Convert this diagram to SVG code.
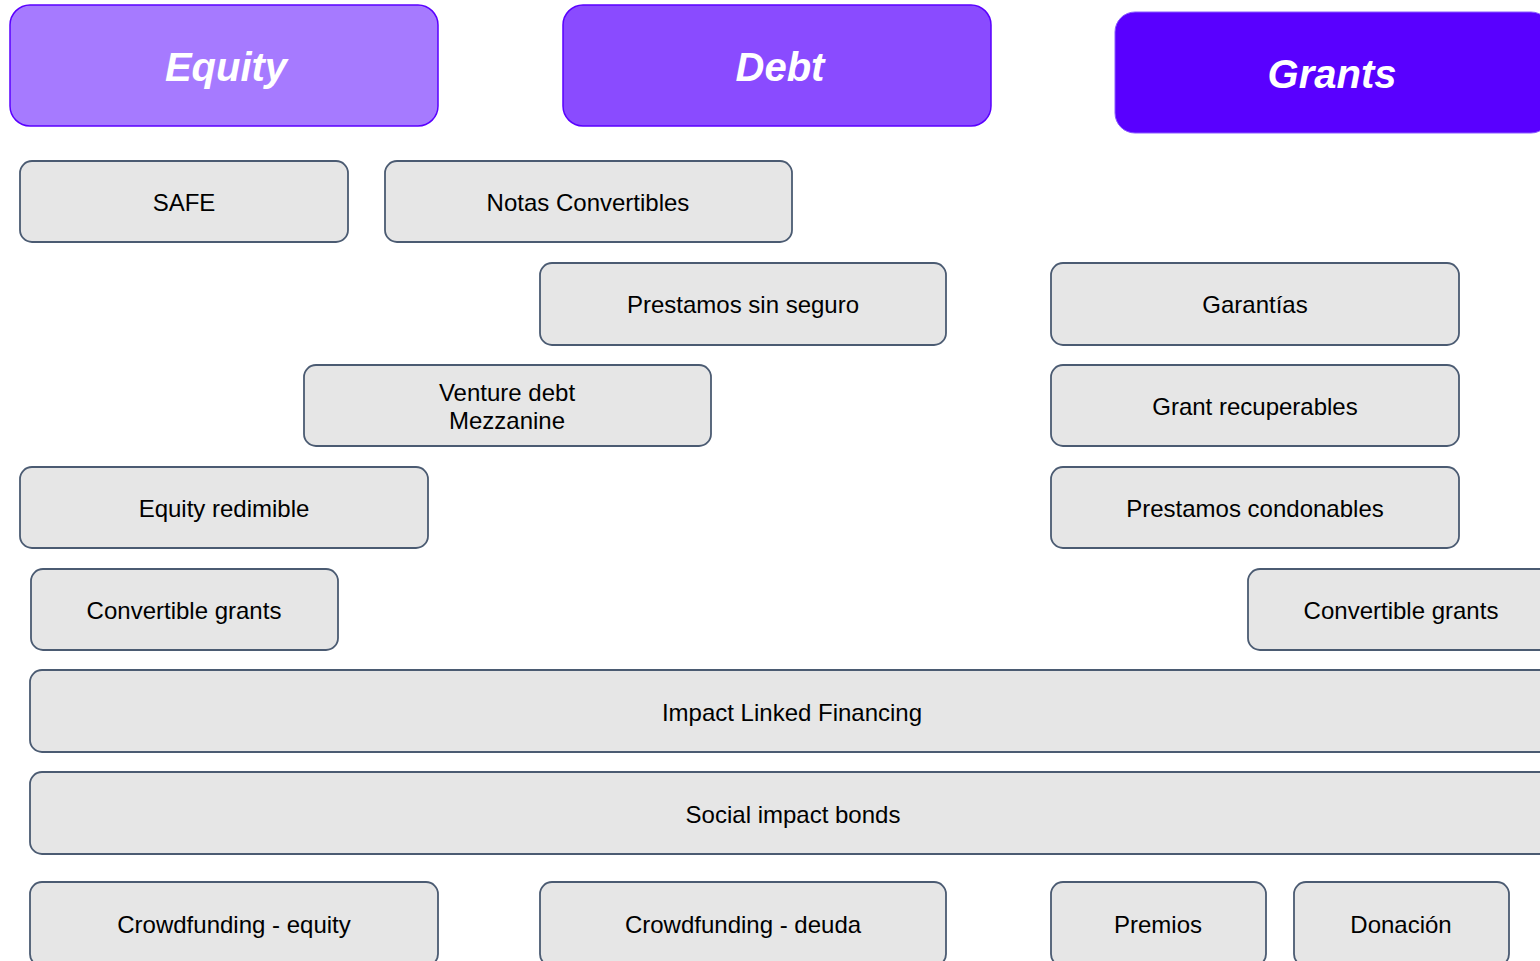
<svg xmlns="http://www.w3.org/2000/svg" width="1540" height="961" viewBox="0 0 1540 961">
<style>
.hdr{stroke:#5a00ff;stroke-width:1.5}
.hdrt{font-family:"Liberation Sans",Arial,sans-serif;font-size:40px;font-weight:bold;font-style:italic;fill:#ffffff;text-anchor:middle;dominant-baseline:central}
.box{fill:#e6e6e6;stroke:#4b5b72;stroke-width:1.8}
.t{font-family:"Liberation Sans",Arial,sans-serif;font-size:24px;fill:#000000;text-anchor:middle;dominant-baseline:central}
</style>
<rect width="1540" height="961" fill="#ffffff"/>
<g id="equity"><rect class="hdr" x="10" y="5" width="428" height="121" rx="20" fill="#a67aff"/><text class="hdrt" x="226" y="67">Equity</text></g>
<g id="debt"><rect class="hdr" x="563" y="5" width="428" height="121" rx="20" fill="#8a4bff"/><text class="hdrt" x="780" y="67">Debt</text></g>
<g id="grants"><rect x="1115" y="12" width="436" height="121" rx="20" fill="#5900ff" stroke="#8a5bff" stroke-width="1"/><text class="hdrt" x="1332" y="74">Grants</text></g>
<g id="safe"><rect class="box" x="20" y="161" width="328" height="81" rx="12"/><text class="t" x="184" y="202">SAFE</text></g>
<g id="notas"><rect class="box" x="385" y="161" width="407" height="81" rx="12"/><text class="t" x="588" y="202">Notas Convertibles</text></g>
<g id="prestamos-sin-seguro"><rect class="box" x="540" y="263" width="406" height="82" rx="12"/><text class="t" x="743" y="304">Prestamos sin seguro</text></g>
<g id="garantias"><rect class="box" x="1051" y="263" width="408" height="82" rx="12"/><text class="t" x="1255" y="304">Garantías</text></g>
<g id="venture"><rect class="box" x="304" y="365" width="407" height="81" rx="12"/><text class="t" x="507" y="392">Venture debt</text><text class="t" x="507" y="420">Mezzanine</text></g>
<g id="grant-recuperables"><rect class="box" x="1051" y="365" width="408" height="81" rx="12"/><text class="t" x="1255" y="406">Grant recuperables</text></g>
<g id="equity-redimible"><rect class="box" x="20" y="467" width="408" height="81" rx="12"/><text class="t" x="224" y="508">Equity redimible</text></g>
<g id="prestamos-condonables"><rect class="box" x="1051" y="467" width="408" height="81" rx="12"/><text class="t" x="1255" y="508">Prestamos condonables</text></g>
<g id="convertible-grants-left"><rect class="box" x="31" y="569" width="307" height="81" rx="12"/><text class="t" x="184" y="610">Convertible grants</text></g>
<g id="convertible-grants-right"><rect class="box" x="1248" y="569" width="307" height="81" rx="12"/><text class="t" x="1401" y="610">Convertible grants</text></g>
<g id="impact-linked"><rect class="box" x="30" y="670" width="1524" height="82" rx="12"/><text class="t" x="792" y="712">Impact Linked Financing</text></g>
<g id="social-impact"><rect class="box" x="30" y="772" width="1524" height="82" rx="12"/><text class="t" x="793" y="814">Social impact bonds</text></g>
<g id="crowd-equity"><rect class="box" x="30" y="882" width="408" height="84" rx="12"/><text class="t" x="234" y="924">Crowdfunding - equity</text></g>
<g id="crowd-deuda"><rect class="box" x="540" y="882" width="406" height="84" rx="12"/><text class="t" x="743" y="924">Crowdfunding - deuda</text></g>
<g id="premios"><rect class="box" x="1051" y="882" width="215" height="84" rx="12"/><text class="t" x="1158" y="924">Premios</text></g>
<g id="donacion"><rect class="box" x="1294" y="882" width="215" height="84" rx="12"/><text class="t" x="1401" y="924">Donación</text></g>
<g id="connectors"></g>
</svg>
